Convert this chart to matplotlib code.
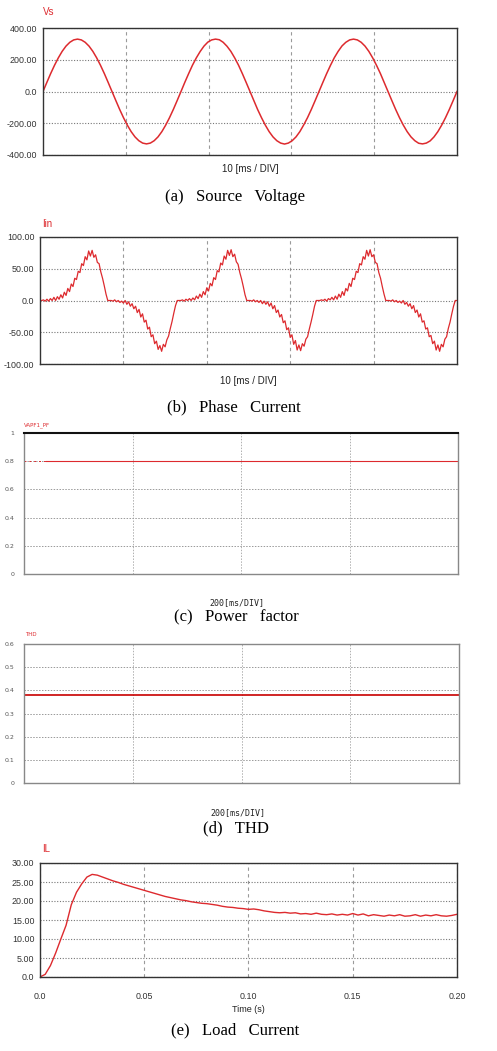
import numpy as np
import matplotlib
matplotlib.use("Agg")
import matplotlib.pyplot as plt

W, H = 497, 1051

# ---- data ----
# (a) source voltage, 3 cycles of 60 Hz over 50 ms, samples every 10 deg
vs_vals = [0, 57, 113, 165, 212, 253, 286, 310, 325, 330, 325, 310, 286, 253, 212, 165, 113, 57,
           0, -57, -113, -165, -212, -253, -286, -310, -325, -330, -325, -310, -286, -253, -212, -165, -113, -57,
           0, 58, 113, 166, 212, 252, 286, 311, 325, 330, 326, 310, 285, 253, 212, 166, 113, 57,
           0, -57, -114, -165, -212, -253, -286, -310, -325, -331, -325, -310, -286, -253, -211, -165, -113, -57,
           0, 57, 113, 165, 213, 253, 287, 310, 325, 330, 325, 310, 286, 253, 212, 165, 114, 57,
           0, -57, -113, -165, -212, -253, -286, -310, -326, -330, -325, -311, -286, -253, -212, -165, -113, -57,
           0]
vs_ticks = [-400, -200, 0, 200, 400]
vs_ticklabels = ["-400.00", "-200.00", "0.0", "200.00", "400.00"]

# (b) phase current with switching ripple (ripple extremes, 50 ms span)
iin_vals = [
    0, 0, 1, -1, 2, -1, 3, 0, 5, 0, 6, 2, 9, 4, 13, 8, 19, 14, 26, 22,
    35, 33, 46, 44, 58, 55, 69, 64, 78, 70, 79, 68, 72, 60, 58, 45, 35, 23, 10, 0,
    0, 0, -1, 1, -2, 0, -3, -1, -4, 0, -6, -2, -9, -5, -13, -9, -19, -14, -26, -21,
    -34, -31, -45, -42, -57, -54, -68, -64, -77, -71, -80, -69, -73, -62, -56, -44, -33, -20, -8, 0,
    0, 0, 1, -1, 2, 0, 3, 0, 4, 1, 7, 3, 10, 5, 14, 9, 20, 15, 27, 23,
    36, 33, 47, 45, 59, 56, 70, 65, 79, 71, 80, 69, 73, 61, 57, 44, 34, 22, 9, 0,
    0, 0, -1, 1, -2, 0, -3, 0, -5, -1, -6, -2, -9, -4, -13, -8, -19, -15, -26, -22,
    -35, -32, -46, -43, -58, -54, -69, -63, -78, -70, -79, -68, -72, -61, -57, -45, -34, -22, -9, 0,
    0, 0, 1, 0, 2, -1, 3, 1, 5, 1, 7, 2, 10, 5, 14, 8, 19, 15, 27, 22,
    35, 33, 46, 44, 58, 56, 69, 65, 79, 70, 80, 69, 72, 60, 58, 44, 35, 22, 10, 0,
    0, 0, -1, 1, -2, 0, -3, -1, -4, 0, -6, -3, -9, -5, -13, -8, -19, -15, -26, -21,
    -34, -32, -45, -43, -57, -55, -68, -64, -78, -70, -80, -69, -73, -61, -57, -44, -34, -21, -9, 0,
    0]
iin_ticks = [-100, -50, 0, 50, 100]
iin_ticklabels = ["-100.00", "-50.00", "0.0", "50.00", "100.00"]

# (c) power factor over 800 ms
pf_start_t = [0, 40]
pf_start = [0.8, 0.8]
pf_t = [40, 800]
pf_vals = [0.8, 0.8]
pf_ticks = [0, 0.2, 0.4, 0.6, 0.8, 1.0]
pf_ticklabels = ["0", "0.2", "0.4", "0.6", "0.8", "1"]

# (d) THD over 800 ms
thd_t = [0, 800]
thd_vals = [0.38, 0.38]
thd_ticks = [0, 0.1, 0.2, 0.3, 0.4, 0.5, 0.6]
thd_ticklabels = ["0", "0.1", "0.2", "0.3", "0.4", "0.5", "0.6"]

# (e) load current
il_t = [0, 0.0025, 0.005, 0.0075, 0.010, 0.0125, 0.015, 0.0175, 0.020, 0.0225,
        0.025, 0.0275, 0.030, 0.0325, 0.035, 0.0375, 0.040, 0.0425, 0.045, 0.0475,
        0.050, 0.0525, 0.055, 0.0575, 0.060, 0.0625, 0.065, 0.0675, 0.070, 0.0725,
        0.075, 0.0775, 0.080, 0.0825, 0.085, 0.0875, 0.090, 0.0925, 0.095, 0.0975,
        0.100, 0.1025, 0.105, 0.1075, 0.110, 0.1125, 0.115, 0.1175, 0.120, 0.1225,
        0.125, 0.1275, 0.130, 0.1325, 0.135, 0.1375, 0.140, 0.1425, 0.145, 0.1475,
        0.150, 0.1525, 0.155, 0.1575, 0.160, 0.1625, 0.165, 0.1675, 0.170, 0.1725,
        0.175, 0.1775, 0.180, 0.1825, 0.185, 0.1875, 0.190, 0.1925, 0.195, 0.1975, 0.200]
il_vals = [0, 0.7, 3.0, 6.3, 10.0, 13.6, 19.0, 22.3, 24.5, 26.3,
           27.0, 26.8, 26.3, 25.8, 25.3, 24.9, 24.4, 24.0, 23.6, 23.2,
           22.8, 22.4, 22.0, 21.6, 21.2, 20.9, 20.6, 20.3, 20.1, 19.8,
           19.6, 19.4, 19.3, 19.1, 18.9, 18.6, 18.4, 18.3, 18.1, 18.0,
           17.8, 17.9, 17.7, 17.4, 17.2, 17.0, 16.9, 17.0, 16.8, 16.9,
           16.6, 16.7, 16.5, 16.8, 16.5, 16.4, 16.6, 16.3, 16.5, 16.3,
           16.7, 16.3, 16.6, 16.1, 16.4, 16.2, 16.0, 16.3, 16.1, 16.4,
           16.0, 16.1, 16.4, 16.0, 16.3, 16.1, 16.4, 16.1, 16.0, 16.2, 16.5]
il_yticks = [0, 5, 10, 15, 20, 25, 30]
il_yticklabels = ["0.0", "5.00", "10.00", "15.00", "20.00", "25.00", "30.00"]
il_xticks = [0, 0.05, 0.10, 0.15, 0.20]
il_xticklabels = ["0.0", "0.05", "0.10", "0.15", "0.20"]

RED = "#dd2a2e"
sans = ["Liberation Sans", "DejaVu Sans"]
serif = ["Liberation Serif", "DejaVu Serif"]
mono = ["DejaVu Sans Mono"]


def box(l, t, r, b):
    return [l / W, 1 - b / H, (r - l) / W, (b - t) / H]


def txt(x, y, s, **kw):
    fig.text(x / W, 1 - y / H, s, **kw)


def scope_style(ax):
    for sp in ax.spines.values():
        sp.set_color("#333333")
        sp.set_linestyle((0, (1.2, 1)))
        sp.set_linewidth(1.0)
    ax.grid(axis="x", color="#9a9a9a", linestyle=(0, (3, 3)), linewidth=0.8)
    ax.grid(axis="y", color="#777777", linestyle=(0, (1, 1.5)), linewidth=0.8)
    ax.tick_params(length=0, labelsize=6.4, labelcolor="#333333", pad=4)
    for lab in ax.get_yticklabels() + ax.get_xticklabels():
        lab.set_family(sans)


def psim_style(ax):
    for sp in ax.spines.values():
        sp.set_color("#888888")
        sp.set_linewidth(1.0)
    ax.spines["top"].set_color("#111111")
    ax.grid(axis="x", color="#b0b0b0", linestyle=(0, (1.5, 1.5)), linewidth=0.7)
    ax.grid(axis="y", color="#999999", linestyle=(0, (1.5, 1.5)), linewidth=0.7)
    ax.tick_params(length=0, labelsize=4.5, labelcolor="#555555", pad=7)
    ax.set_xticklabels([])


fig = plt.figure(figsize=(W / 100, H / 100), dpi=100)

# (a) Source voltage
ax1 = fig.add_axes(box(43, 28, 457, 155))
ax1.plot(np.linspace(0, 50, len(vs_vals)), vs_vals, color=RED, lw=1.1)
ax1.set_xlim(0, 50)
ax1.set_ylim(-400, 400)
ax1.set_xticks([10, 20, 30, 40])
ax1.set_xticklabels([])
ax1.set_yticks(vs_ticks)
ax1.set_yticklabels(vs_ticklabels)
scope_style(ax1)
txt(43, 12, "Vs", color=RED, fontsize=7, family=sans, va="center")
txt(250, 169, "10 [ms / DIV]", color="#222222", fontsize=7, family=sans, ha="center", va="center")
txt(235, 197, "(a)   Source   Voltage", fontsize=12, family=serif, ha="center", va="center")

# (b) Phase current
ax2 = fig.add_axes(box(40, 237, 457, 364))
ax2.plot(np.linspace(0, 50, len(iin_vals)), iin_vals, color=RED, lw=0.9)
ax2.set_xlim(0, 50)
ax2.set_ylim(-100, 100)
ax2.set_xticks([10, 20, 30, 40])
ax2.set_xticklabels([])
ax2.set_yticks(iin_ticks)
ax2.set_yticklabels(iin_ticklabels)
scope_style(ax2)
txt(42, 224, "Iin", color=RED, fontsize=7, family=sans, va="center")
txt(248, 381, "10 [ms / DIV]", color="#222222", fontsize=7, family=sans, ha="center", va="center")
txt(234, 407, "(b)   Phase   Current", fontsize=12, family=serif, ha="center", va="center")

# (c) Power factor
ax3 = fig.add_axes(box(24, 433, 458, 574))
ax3.plot(pf_start_t, pf_start, color=RED, lw=0.7, linestyle=(0, (2, 3)))
ax3.plot(pf_t, pf_vals, color=RED, lw=0.8)
ax3.set_xlim(0, 800)
ax3.set_ylim(0, 1)
ax3.set_xticks([200, 400, 600])
ax3.set_yticks(pf_ticks)
ax3.set_yticklabels(pf_ticklabels)
psim_style(ax3)
ax3.spines["top"].set_linewidth(1.5)
txt(24, 425, "VAPF1_PF", color=RED, fontsize=4, va="center")
txt(237, 603, "200[ms/DIV]", color="#222222", fontsize=6, family=mono, ha="center", va="center")
txt(236, 617, "(c)   Power   factor", fontsize=12, family=serif, ha="center", va="center")

# (d) THD
ax4 = fig.add_axes(box(24, 644, 459, 783))
ax4.plot(thd_t, thd_vals, color="#c80000", lw=1.2)
ax4.set_xlim(0, 800)
ax4.set_ylim(0, 0.6)
ax4.set_xticks([200, 400, 600])
ax4.set_yticks(thd_ticks)
ax4.set_yticklabels(thd_ticklabels)
psim_style(ax4)
ax4.spines["top"].set_color("#888888")
txt(25, 635, "THD", color=RED, fontsize=4, va="center")
txt(238, 813, "200[ms/DIV]", color="#222222", fontsize=6, family=mono, ha="center", va="center")
txt(236, 828, "(d)   THD", fontsize=12, family=serif, ha="center", va="center")

# (e) Load current
ax5 = fig.add_axes(box(40, 863, 457, 977))
ax5.plot(il_t, il_vals, color=RED, lw=1.0)
ax5.set_xlim(0, 0.2)
ax5.set_ylim(0, 30)
ax5.set_xticks(il_xticks)
ax5.set_xticklabels(il_xticklabels)
ax5.set_yticks(il_yticks)
ax5.set_yticklabels(il_yticklabels)
scope_style(ax5)
ax5.tick_params(axis="x", pad=11)
txt(42, 849, "IL", color=RED, fontsize=7, family=sans, va="center")
txt(248, 1009, "Time (s)", color="#222222", fontsize=6.5, family=sans, ha="center", va="center")
txt(235, 1030, "(e)   Load   Current", fontsize=12, family=serif, ha="center", va="center")

fig.savefig("out.png", dpi=100, facecolor="white")
